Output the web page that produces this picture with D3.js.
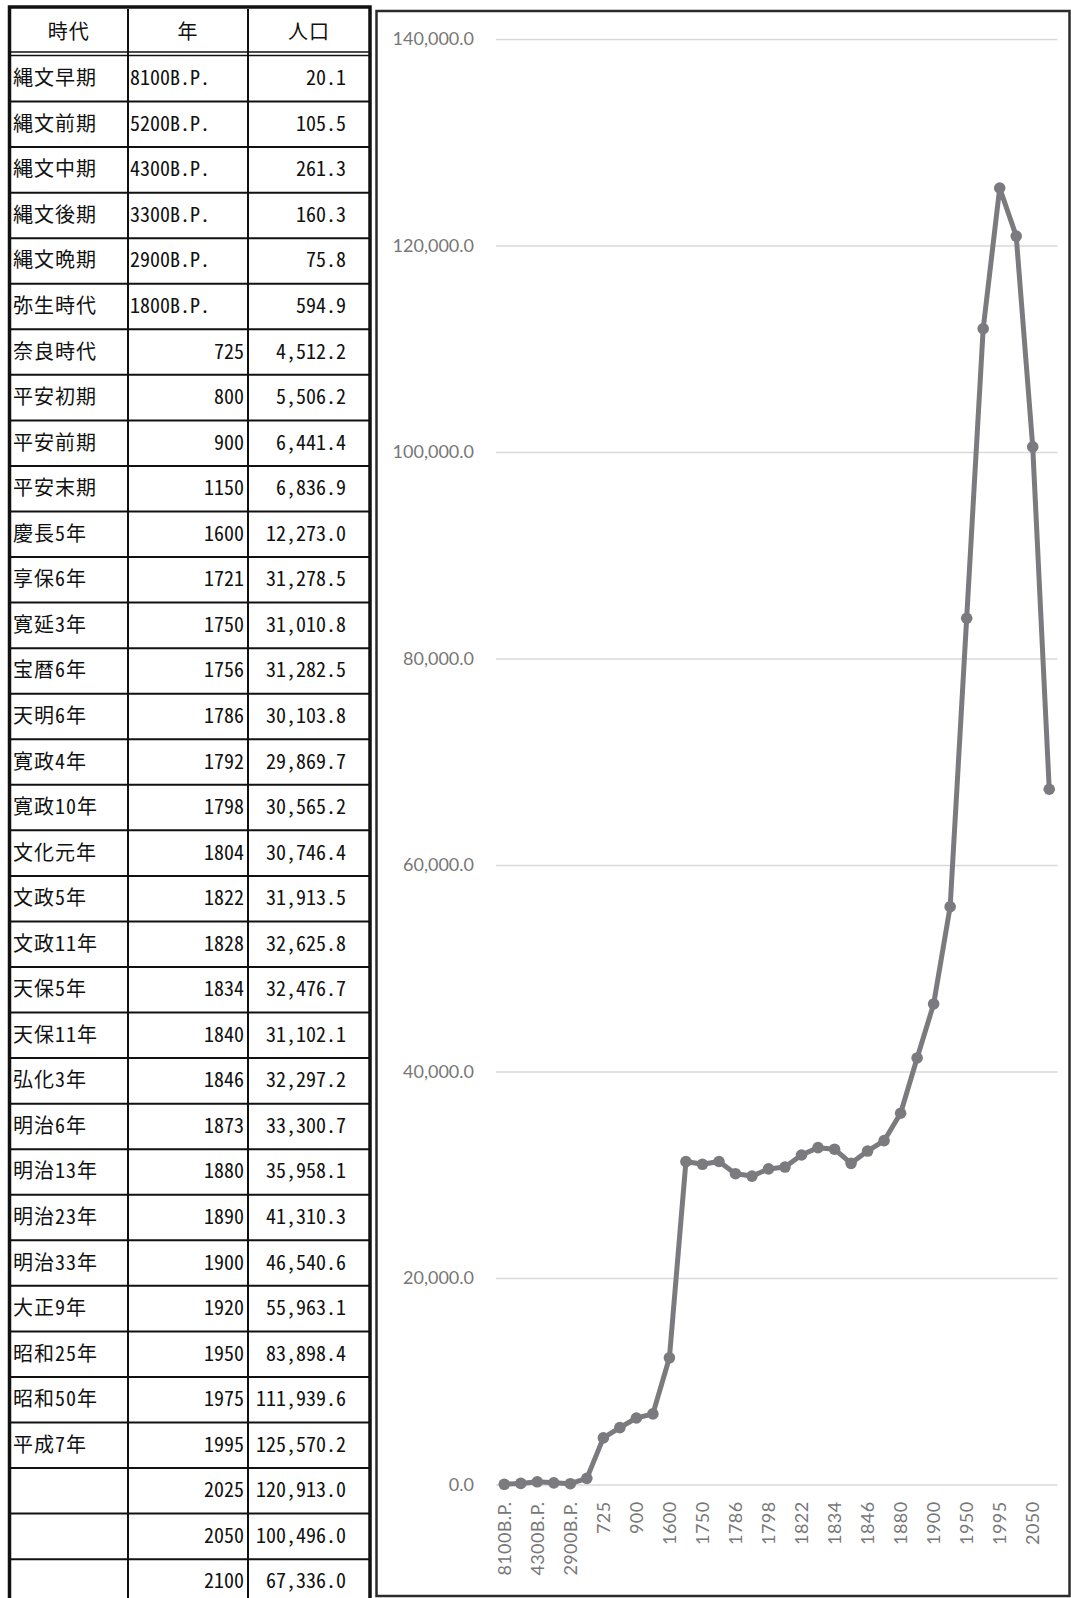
<!DOCTYPE html>
<html lang="ja">
<head>
<meta charset="utf-8">
<script src="https://cdn.jsdelivr.net/npm/d3@7"></script>
<style>
  html, body { margin: 0; padding: 0; background: #fff; }
  svg { display: block; }
  .cell { font-family: "Noto Sans Mono CJK JP", "Noto Sans CJK JP", monospace; font-size: 20px; fill: #111; }
  .axis-label { font-family: Lato, "Open Sans", sans-serif; font-size: 18px; fill: #777; }
</style>
</head>
<body>
<svg id="chart" width="1071" height="1598"></svg>
<script>
// Estimated population of Japan by period (thousands)
const headers = ["時代", "年", "人口"];
const eras = ["縄文早期","縄文前期","縄文中期","縄文後期","縄文晩期","弥生時代","奈良時代","平安初期","平安前期","平安末期",
  "慶長5年","享保6年","寛延3年","宝暦6年","天明6年","寛政4年","寛政10年","文化元年","文政5年","文政11年",
  "天保5年","天保11年","弘化3年","明治6年","明治13年","明治23年","明治33年","大正9年","昭和25年","昭和50年",
  "平成7年","","",""];
const years = ["8100B.P.","5200B.P.","4300B.P.","3300B.P.","2900B.P.","1800B.P.","725","800","900","1150",
  "1600","1721","1750","1756","1786","1792","1798","1804","1822","1828",
  "1834","1840","1846","1873","1880","1890","1900","1920","1950","1975",
  "1995","2025","2050","2100"];
const population = [20.1,105.5,261.3,160.3,75.8,594.9,4512.2,5506.2,6441.4,6836.9,
  12273.0,31278.5,31010.8,31282.5,30103.8,29869.7,30565.2,30746.4,31913.5,32625.8,
  32476.7,31102.1,32297.2,33300.7,35958.1,41310.3,46540.6,55963.1,83898.4,111939.6,
  125570.2,120913.0,100496.0,67336.0];
const yTicks = [0, 20000, 40000, 60000, 80000, 100000, 120000, 140000];

const svg = d3.select("#chart");
const fmt = d3.format(",.1f");

// ---------- data table ----------
const tbl = svg.append("g");
const colX = [9.5, 128, 248, 370];
const headTop = 9, headBottom = 52, firstRow = 56, rowH = 45.55;
const rowTop = i => firstRow + i * rowH;

// row separators
tbl.selectAll("line.row").data(d3.range(1, years.length + 1)).join("line")
  .attr("x1", colX[0]).attr("x2", colX[3])
  .attr("y1", i => rowTop(i)).attr("y2", i => rowTop(i))
  .attr("stroke", "#111").attr("stroke-width", 2);
// header double rule
[headBottom, 55.5].forEach(y => tbl.append("line")
  .attr("x1", colX[0]).attr("x2", colX[3]).attr("y1", y).attr("y2", y)
  .attr("stroke", "#111").attr("stroke-width", 1.5));
// inner column lines
[colX[1], colX[2]].forEach(x => tbl.append("line")
  .attr("x1", x).attr("x2", x).attr("y1", headTop).attr("y2", 1600)
  .attr("stroke", "#111").attr("stroke-width", 2));
// outer frame
tbl.append("rect").attr("x", colX[0]).attr("y", 7).attr("width", colX[3] - colX[0]).attr("height", 1620)
  .attr("fill", "none").attr("stroke", "#111").attr("stroke-width", 3.5);

// header text
tbl.selectAll("text.head").data(headers).join("text")
  .attr("class", "cell")
  .attr("x", (d, i) => (colX[i] + colX[i + 1]) / 2)
  .attr("y", 39)
  .attr("text-anchor", "middle")
  .style("letter-spacing", "1px")
  .text(d => d);

const rows = tbl.selectAll("g.row").data(years.map((y, i) => ({ era: eras[i], year: y, pop: population[i], i })))
  .join("g").attr("transform", d => `translate(0,${rowTop(d.i) + rowH / 2 + 6.5})`);
rows.append("text").attr("class", "cell").attr("x", 13).style("letter-spacing", "1px").text(d => d.era);
rows.append("text").attr("class", "cell")
  .attr("x", d => d.year.includes("B.P.") ? 130 : 244)
  .attr("text-anchor", d => d.year.includes("B.P.") ? "start" : "end")
  .text(d => d.year);
rows.append("text").attr("class", "cell").attr("x", 346).attr("text-anchor", "end").text(d => fmt(d.pop));

// ---------- line chart ----------
svg.append("rect").attr("x", 376.5).attr("y", 11).attr("width", 693).attr("height", 1585)
  .attr("fill", "#fff").attr("stroke", "#2b2b2b").attr("stroke-width", 2.5);

const x = d3.scaleBand().domain(d3.range(years.length)).range([496, 1057.5]);
const cx = i => x(i) + x.bandwidth() / 2;
const y = d3.scaleLinear().domain([0, 140000]).range([1484.5, 39]);

// gridlines + value labels
const yAxis = svg.append("g").attr("transform", "translate(496,0)")
  .call(d3.axisLeft(y).tickValues(yTicks).tickFormat(fmt).tickSize(-(1057.5 - 496)).tickPadding(22));
yAxis.select(".domain").remove();
yAxis.selectAll(".tick line").attr("stroke", "#d9d9d9").attr("stroke-width", 1.5);
yAxis.selectAll(".tick text").attr("class", "axis-label").attr("font-family", null).attr("font-size", null).attr("fill", null);

// category labels (every other category), rotated
const xAxis = svg.append("g").attr("transform", "translate(0,1484.5)")
  .call(d3.axisBottom(x).tickValues(d3.range(0, years.length, 2)).tickFormat(i => years[i]).tickSize(0));
xAxis.select(".domain").remove();
xAxis.selectAll(".tick text")
  .attr("class", "axis-label").attr("font-family", null).attr("font-size", null).attr("fill", null)
  .attr("text-anchor", "end").attr("dy", "0.35em")
  .style("letter-spacing", "0.4px")
  .attr("transform", "translate(0,17) rotate(-90)")
  .attr("x", 0).attr("y", 0);

// series
const lineColor = "#7b7b7f";
svg.append("path").datum(population)
  .attr("d", d3.line().x((d, i) => cx(i)).y(d => y(d)))
  .attr("fill", "none").attr("stroke", lineColor).attr("stroke-width", 5)
  .attr("stroke-linejoin", "round");
svg.selectAll("circle.pt").data(population).join("circle")
  .attr("cx", (d, i) => cx(i)).attr("cy", d => y(d)).attr("r", 5.8)
  .attr("fill", lineColor);
</script>
</body>
</html>
